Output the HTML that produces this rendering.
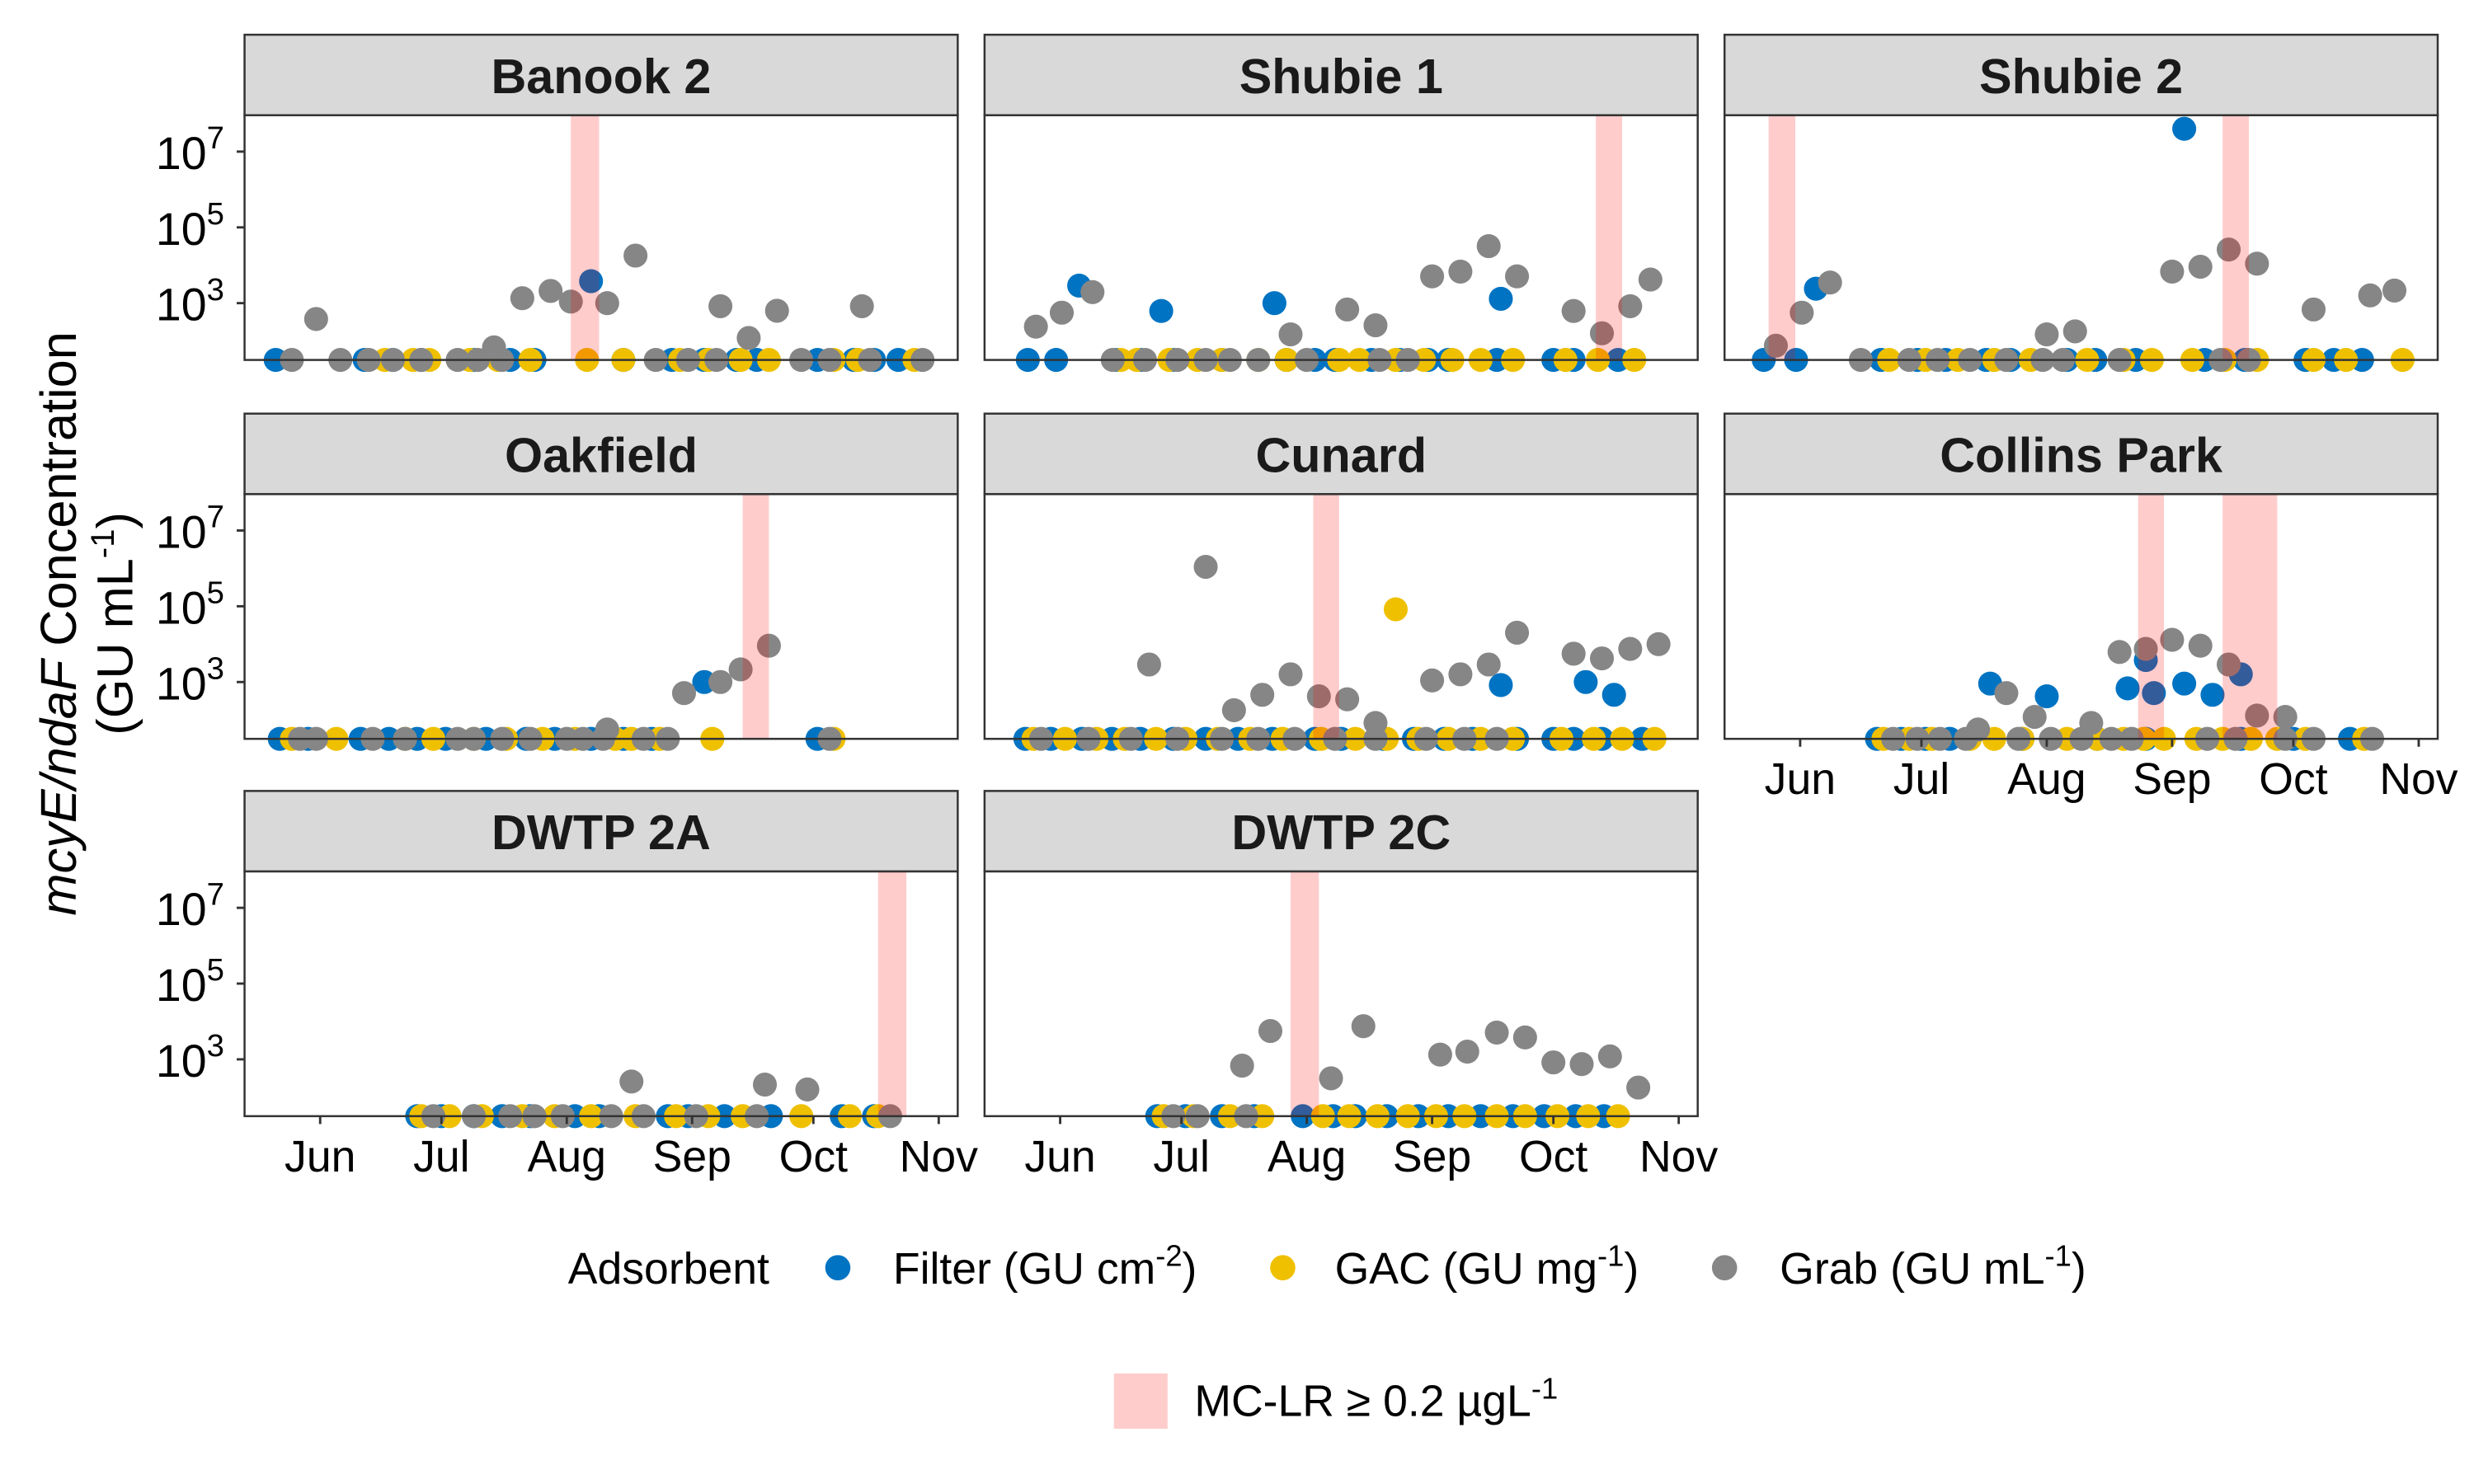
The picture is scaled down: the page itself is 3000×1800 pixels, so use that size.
<!DOCTYPE html>
<html><head><meta charset="utf-8"><style>
html,body{margin:0;padding:0;background:#fff;}
svg{display:block;font-family:"Liberation Sans",Arial,sans-serif;}
</style></head><body>
<svg id="chart" width="3000" height="1800" viewBox="0 0 1568 940" preserveAspectRatio="none" xmlns="http://www.w3.org/2000/svg">
<rect x="0" y="0" width="1568" height="940" fill="#fff"/>
<g font-size="32" fill="#000">
 <text transform="translate(48,395) rotate(-90)" text-anchor="middle"><tspan font-style="italic">mcyE/ndaF</tspan> Concentration</text>
 <text transform="translate(84,395) rotate(-90)" text-anchor="middle">(GU mL<tspan font-size="21" dy="-12">-1</tspan><tspan dy="12">)</tspan></text>
</g>
<g id="panels"></g>
<g font-size="28" fill="#000">
 <text x="360" y="813">Adsorbent</text>
 <g><circle cx="531" cy="803" r="8" fill="#0073C2"/><text x="566" y="813">Filter (GU cm<tspan font-size="19" dy="-11">-2</tspan><tspan dy="11">)</tspan></text></g>
 <g><circle cx="813" cy="803" r="8" fill="#EFC000"/><text x="846" y="813">GAC (GU mg<tspan font-size="19" dy="-11">-1</tspan><tspan dy="11">)</tspan></text></g>
 <g><circle cx="1093" cy="803" r="8" fill="#868686"/><text x="1128" y="813">Grab (GU mL<tspan font-size="19" dy="-11">-1</tspan><tspan dy="11">)</tspan></text></g>
</g>
<g font-size="28" fill="#000">
 <rect x="706" y="870" width="34" height="35" fill="#ffcccc"/>
 <text x="757" y="897">MC-LR ≥ 0.2 µgL<tspan font-size="19" dy="-11">-1</tspan></text>
</g>
</svg>
<script>
// x data: days since Jun 1; y data: concentration (0 = below detection, drawn at axis floor)
const panelNames = ["Banook 2","Shubie 1","Shubie 2","Oakfield","Cunard","Collins Park","DWTP 2A","DWTP 2C"];
const monthTicks = [0,30,61,92,122,153];
const monthLabels = ["Jun","Jul","Aug","Sep","Oct","Nov"];
const yTicks = [3,5,7];

const banookFilterDays = [-11,11,18,25,38,47,53,67,75,87,95,103,108,123,132,137,143];
const banookFilterVals = [0,0,0,0,0,0,0,3800,0,0,0,0,0,0,0,0,0];
const banookGacDays = [16,23,27,37,44,52,66,75,89,96,104,111,127,133,147];
const banookGacVals = [0,0,0,0,0,0,0,0,0,0,0,0,0,0,0];
const banookGrabDays = [-7,5,12,18,25,34,39,45,83,91,98,119,126,136,149,-1,50,57,62,71,78,99,106,113,134,43];
const banookGrabVals = [0,0,0,0,0,0,0,0,0,0,0,0,0,0,0,380,1350,2100,1100,1000,18000,830,120,630,830,68];
const banookBands = [[62,69]];

const shubie1FilterDays = [-8,-1,14,20,28,40,56,63,68,77,84,91,96,108,122,127,138,4.7,25,53,109];
const shubie1FilterVals = [0,0,0,0,0,0,0,0,0,0,0,0,0,0,0,0,0,2900,620,1000,1300];
const shubie1GacDays = [15,19,27,34,40,49,56,69,74,83,90,97,104,112,125,133,142];
const shubie1GacVals = [0,0,0,0,0,0,0,0,0,0,0,0,0,0,0,0,0];
const shubie1GrabDays = [13,21,29,36,42,49,61,79,86,-6,0.4,8,57,71,78,92,99,106,113,127,134,141,146];
const shubie1GrabVals = [0,0,0,0,0,0,0,0,0,240,560,1950,150,680,260,5100,6800,32000,5100,620,160,830,4200];
const shubie1Bands = [[132.5,139]];

const shubie2FilterDays = [-9,-1,20,29,36,46,52,66,73,83,100,110,125,132,139,3.9,95];
const shubie2FilterVals = [0,0,0,0,0,0,0,0,0,0,0,0,0,0,0,2400,40000000];
const shubie2GacDays = [22,31,39,48,57,71,80,87,97,105,113,127,135,149];
const shubie2GacVals = [0,0,0,0,0,0,0,0,0,0,0,0,0,0];
const shubie2GrabDays = [15,27,34,42,51,60,65,79,104,111,-6,0.4,7.4,61,68,92,99,106,113,127,141,147];
const shubie2GrabVals = [0,0,0,0,0,0,0,0,0,0,75,560,3500,150,180,6800,9100,26000,11000,680,1600,2150];
const shubie2Bands = [[-7.8,-1.2],[104.5,111]];

const oakFilterDays = [-10,-3,10,17,24,31,41,51,58,67,75,82,123,95];
const oakFilterVals = [0,0,0,0,0,0,0,0,0,0,0,0,0,1000];
const oakGacDays = [-7,4,21,28,38,46,55,63,73,77,84,97,127];
const oakGacVals = [0,0,0,0,0,0,0,0,0,0,0,0,0];
const oakGrabDays = [-5,-1,13,21,34,38,45,52,61,65,70,80,86,126,90,99,104,111,71];
const oakGrabVals = [0,0,0,0,0,0,0,0,0,0,0,0,0,0,510,1000,2150,9100,56];
const oakBands = [[104.5,111]];

const cunardFilterDays = [-8.6,-2.3,5.4,12.8,19.8,28,36,44,52.5,63,69.5,80,87.5,95,102,113,122,127,134,144,109,130,137];
const cunardFilterVals = [0,0,0,0,0,0,0,0,0,0,0,0,0,0,0,0,0,0,0,0,830,1000,460];
const cunardGacDays = [-6.6,1.2,9,16,23.7,31,39,47,55,64.5,73,80.8,88.6,96,104,112,124,132,139,147,83];
const cunardGacVals = [0,0,0,0,0,0,0,0,0,0,0,0,0,0,0,0,0,0,0,0,83000];
const cunardGrabDays = [-4.7,7,17.5,29,40,49,58,68,78,90.5,100,108,22,36,43,50,57,64,71,78,92,99,106,113,127,134,141,148];
const cunardGrabVals = [0,0,0,0,0,0,0,0,0,0,0,0,2900,1100000,180,460,1600,420,350,83,1100,1600,2900,20000,5600,4200,7500,10000];
const cunardBands = [[62.6,69]];

const collinsFilterDays = [19,25,31,37,55,73.5,85.5,109,122,136,47,61,85.5,81,87.5,95,102,109];
const collinsFilterVals = [0,0,0,0,0,0,0,0,0,0,910,420,3800,680,510,910,460,1600];
const collinsGacDays = [20.6,27,32.6,42,48,55,66,73.5,80,85,90,98,104.5,111.5,118,125,139.5];
const collinsGacVals = [0,0,0,0,0,0,0,0,0,0,0,0,0,0,0,0,0];
const collinsGrabDays = [23,29,34.6,41,54,62,69.6,77,82,100.7,107.7,120,127,141.5,44,51,58,72,79,85.5,92,99,106,113,120];
const collinsGrabVals = [0,0,0,0,0,0,0,0,0,0,0,0,0,0,56,510,120,83,6200,7500,13000,9100,2900,130,120];
const collinsBands = [[83.6,90],[104.5,118]];

const dwtp2aFilterDays = [24,30,38,45,52,63,69,86,91,100,111.5,129,137];
const dwtp2aFilterVals = [0,0,0,0,0,0,0,0,0,0,0,0,0];
const dwtp2aGacDays = [25,32,40,50,58,67,78,88,96,104.5,119,131,138];
const dwtp2aGacVals = [0,0,0,0,0,0,0,0,0,0,0,0,0];
const dwtp2aGrabDays = [28,38,47,53,60,72,80,93,108,141,77,110,120.5];
const dwtp2aGrabVals = [0,0,0,0,0,0,0,0,0,0,260,215,160];
const dwtp2aBands = [[138,145]];

const dwtp2cFilterDays = [24,31,40,48,60,67.5,73,80.8,88.6,96,104,112,119.7,127.5,134.5];
const dwtp2cFilterVals = [0,0,0,0,0,0,0,0,0,0,0,0,0,0,0];
const dwtp2cGacDays = [25.6,33,42,50,65,71.5,78.5,86,93,100,108,115,123,130.6,138];
const dwtp2cGacVals = [0,0,0,0,0,0,0,0,0,0,0,0,0,0,0];
const dwtp2cGrabDays = [28,34,46,45,52,67,75,94,100.7,108,115,122,129,136,143];
const dwtp2cGrabVals = [0,0,0,680,5600,316,7500,1330,1600,5100,3800,830,750,1200,180];
const dwtp2cBands = [[57,64]];

const seriesColors = {filter:"#0073C2", gac:"#EFC000", grab:"#868686"};

const panelData = [
 [banookFilterDays,banookFilterVals,banookGacDays,banookGacVals,banookGrabDays,banookGrabVals,banookBands],
 [shubie1FilterDays,shubie1FilterVals,shubie1GacDays,shubie1GacVals,shubie1GrabDays,shubie1GrabVals,shubie1Bands],
 [shubie2FilterDays,shubie2FilterVals,shubie2GacDays,shubie2GacVals,shubie2GrabDays,shubie2GrabVals,shubie2Bands],
 [oakFilterDays,oakFilterVals,oakGacDays,oakGacVals,oakGrabDays,oakGrabVals,oakBands],
 [cunardFilterDays,cunardFilterVals,cunardGacDays,cunardGacVals,cunardGrabDays,cunardGrabVals,cunardBands],
 [collinsFilterDays,collinsFilterVals,collinsGacDays,collinsGacVals,collinsGrabDays,collinsGrabVals,collinsBands],
 [dwtp2aFilterDays,dwtp2aFilterVals,dwtp2aGacDays,dwtp2aGacVals,dwtp2aGrabDays,dwtp2aGrabVals,dwtp2aBands],
 [dwtp2cFilterDays,dwtp2cFilterVals,dwtp2cGacDays,dwtp2cGacVals,dwtp2cGrabDays,dwtp2cGrabVals,dwtp2cBands]
];

const NS = "http://www.w3.org/2000/svg";
const colX = [155,624,1093], panelW = 452;
const rowStrip = [22,262,501], stripH = 51, plotH = 155;
const xMin = -18.7, xMax = 157.7, yMin = 1.5, yMax = 7.96;
function mk(tag, attrs, parent){ const e=document.createElementNS(NS,tag); for(const k in attrs) e.setAttribute(k,attrs[k]); if(parent) parent.appendChild(e); return e; }
function slug(s){ return s.toLowerCase().replace(/[^a-z0-9]+/g,'-'); }
const root = document.getElementById('panels');

panelNames.forEach((name,i)=>{
  const col=i%3, row=Math.floor(i/3);
  const x0=colX[col], sy=rowStrip[row], py=sy+stripH, pb=py+plotH;
  const xs = d => x0 + (d - xMin)/(xMax - xMin)*panelW;
  const ys = v => v<=0 ? pb : pb - (Math.log10(v) - yMin)/(yMax - yMin)*plotH;
  const ysLog = l => pb - (l - yMin)/(yMax - yMin)*plotH;
  const g = mk('g',{},root);
  
  
  const strip = mk('rect',{x:x0,y:sy,width:panelW,height:stripH,fill:'#d9d9d9',stroke:'#333','stroke-width':1.3},g);
  
  
  const st = mk('text',{x:x0+panelW/2,y:sy+37,'text-anchor':'middle','font-size':31,'font-weight':'bold',fill:'#1a1a1a'},g);
  st.textContent = name;
  
  
  mk('rect',{x:x0,y:py,width:panelW,height:plotH,fill:'#fff'},g);
  const d = panelData[i];
  const series = [['filter',d[0],d[1]],['gac',d[2],d[3]],['grab',d[4],d[5]]];
  series.forEach(([key,days,vals])=>{
    days.forEach((dd,j)=>{
      const c = mk('circle',{cx:xs(dd),cy:ys(vals[j]),r:7.6,fill:seriesColors[key]},g);
      
      
    });
  });
  d[6].forEach(b=>{
    const r = mk('rect',{x:xs(b[0]),y:py,width:xs(b[1])-xs(b[0]),height:plotH,fill:'rgba(255,0,0,0.2)'},g);
    
    
  });
  mk('rect',{x:x0,y:py,width:panelW,height:plotH,fill:'none',stroke:'#333','stroke-width':1.3},g);
  if(col===0){
    yTicks.forEach(t=>{
      const y=ysLog(t);
      mk('line',{x1:x0-5,x2:x0,y1:y,y2:y,stroke:'#333','stroke-width':1.5},g);
      const tx = mk('text',{x:x0-24,y:y+11,'text-anchor':'end','font-size':29,fill:'#000'},g);
      tx.textContent='10';
      
      
      const sup = mk('text',{x:x0-24,y:y-2,'text-anchor':'start','font-size':20,fill:'#000'},g);
      sup.textContent=String(t);
    });
  }
  const showX = (row===2) || (row===1 && col===2);
  if(showX){
    monthTicks.forEach((m,k)=>{
      const x=xs(m);
      mk('line',{x1:x,x2:x,y1:pb,y2:pb+5,stroke:'#333','stroke-width':1.5},g);
      const tx = mk('text',{x:x,y:pb+35,'text-anchor':'middle','font-size':28,fill:'#000'},g);
      tx.textContent=monthLabels[k];
      
      
    });
  }
});
</script>
</body></html>
